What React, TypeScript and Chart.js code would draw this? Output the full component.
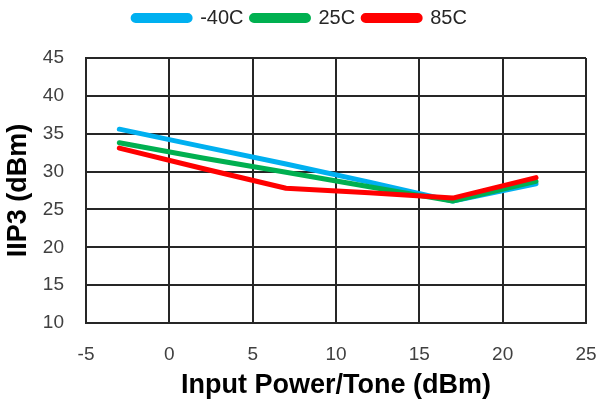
import React, { useEffect, useRef } from "react";
import { Chart, registerables } from "chart.js";

Chart.register(...registerables);

const xValues = [-3, 2, 7, 12, 17, 22];
const seriesNames = ["-40C", "25C", "85C"];
const blueValues = [35.6, 33.3, 31.0, 28.6, 26.1, 28.4];
const greenValues = [33.8, 31.8, 29.9, 28.0, 26.1, 28.7];
const redValues = [33.1, 30.4, 27.8, 27.2, 26.5, 29.2];
const seriesColors = ["#00B0F0", "#00B050", "#FF0000"];

const xMin = -5, xMax = 25, xStep = 5;
const yMin = 10, yMax = 45, yStep = 5;

const FONT = "'Liberation Sans', Arial, sans-serif";

export default function App() {
  const ref = useRef<HTMLCanvasElement | null>(null);
  useEffect(() => {
    if (!ref.current) return;
    const all = [blueValues, greenValues, redValues];
    const chart = new Chart(ref.current, {
      type: "line",
      data: {
        datasets: all.map((vals, i) => ({
          label: seriesNames[i],
          data: vals.map((v, j) => ({ x: xValues[j], y: v })),
          borderColor: seriesColors[i],
          backgroundColor: seriesColors[i],
          borderWidth: 5,
          pointRadius: 0,
          tension: 0,
          borderCapStyle: "round",
          borderJoinStyle: "round",
          order: 3 - i,
        })),
      },
      options: {
        animation: false,
        responsive: false,
        maintainAspectRatio: false,
        layout: { padding: { left: 0, right: 0, top: 0, bottom: 0 } },
        plugins: {
          tooltip: { enabled: false },
          title: {
            display: true,
            text: "",
            weight: 500,
            font: { size: 10, lineHeight: 1 },
            padding: { top: 5, bottom: 5 },
          },
          legend: {
            position: "top",
            labels: {
              boxWidth: 57,
              boxHeight: 5,
              useBorderRadius: true,
              borderRadius: 2.5,
              padding: 8,
              color: "#262626",
              font: { family: FONT, size: 20 },
              sort: (a: any, b: any) => a.datasetIndex - b.datasetIndex,
            },
          },
        },
        scales: {
          x: {
            type: "linear",
            min: xMin,
            max: xMax,
            ticks: {
              stepSize: xStep,
              color: "#404040",
              font: { family: FONT, size: 19 },
              padding: 20,
              maxRotation: 0,
            },
            grid: { color: "#262626", lineWidth: 2, drawTicks: false },
            border: { color: "#262626", width: 2 },
            title: {
              display: true,
              text: "Input Power/Tone (dBm)",
              color: "#000000",
              font: { family: FONT, size: 27, weight: "bold" },
              padding: { top: 2, bottom: 0 },
            },
            afterFit: (s: any) => {
              s.height = 79;
              s.paddingRight = 14;
              s.paddingLeft = 0;
            },
          },
          y: {
            min: yMin,
            max: yMax,
            ticks: {
              stepSize: yStep,
              color: "#404040",
              font: { family: FONT, size: 19 },
              padding: 22,
            },
            grid: { color: "#262626", lineWidth: 2, drawTicks: false },
            border: { color: "#262626", width: 2 },
            title: {
              display: true,
              text: "IIP3 (dBm)",
              color: "#000000",
              font: { family: FONT, size: 27, weight: "bold" },
              padding: { top: 2, bottom: 0 },
            },
            afterFit: (s: any) => { s.width = 86; },
          },
        },
      },
    });
    return () => chart.destroy();
  }, []);
  return (
    <div style={{ position: "absolute", left: 0, top: 0, width: 600, height: 402, background: "#fff" }}>
      <canvas ref={ref} width={600} height={402} style={{ display: "block" }} />
    </div>
  );
}
